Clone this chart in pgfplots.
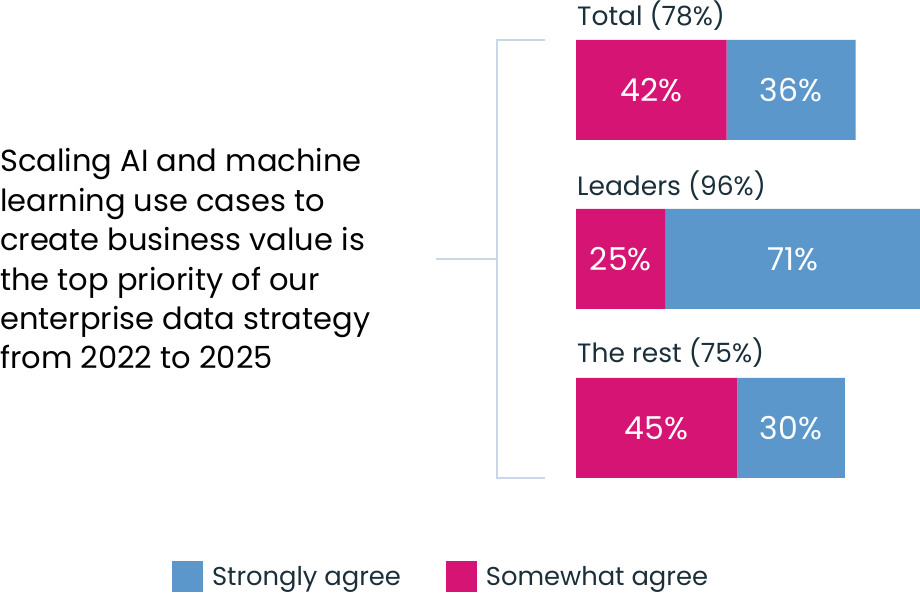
\documentclass[border=0pt]{standalone}
\usepackage{pgfplots}
\pgfplotsset{compat=1.18}
\usepackage{fontspec}
\setmainfont{Poppins}
\definecolor{mag}{HTML}{D61474}
\definecolor{blu}{HTML}{5B97CB}
\definecolor{txt}{HTML}{1B2F3A}
\definecolor{brk}{HTML}{C9D7E6}
\tikzset{vlab/.style={text=white, font=\fontsize{31.5bp}{34bp}\selectfont}}
\begin{document}
\begin{tikzpicture}[x=1bp,y=1bp]
\path[use as bounding box] (0,0) rectangle (920,595);
\begin{axis}[at={(576bp,82.5bp)}, anchor=south west, scale only axis,
  width=344bp, height=507bp, xmin=0, xmax=96, ymin=-0.5, ymax=2.5,
  xbar stacked, bar width=100bp, axis lines=none, ticks=none, clip=false,
  reverse legend,
  legend style={at={(-1.1744,-0.1272)}, anchor=west, draw=none, fill=none,
    legend columns=2, font=\fontsize{25.8bp}{29bp}\selectfont, text=txt,
    inner sep=0pt, outer sep=0pt,
    /tikz/every odd column/.append style={column sep=7bp},
    /tikz/every even column/.append style={column sep=43bp}},
  legend cell align=left,
]
\addplot[fill=mag, draw=none, legend image code/.code={\fill[mag] (0bp,-15.5bp) rectangle (31bp,15.5bp);}] coordinates {(45,0) (25,1) (42,2)};
\addlegendentry{Somewhat agree}
\addplot[fill=blu, draw=none, legend image code/.code={\fill[blu] (0bp,-15.5bp) rectangle (31bp,15.5bp);}] coordinates {(30,0) (71,1) (36,2)};
\addlegendentry{Strongly agree}
\coordinate (a1) at (axis cs:21,2);
\coordinate (a2) at (axis cs:60,2);
\coordinate (b1) at (axis cs:12.5,1);
\coordinate (b2) at (axis cs:60.5,1);
\coordinate (c1) at (axis cs:22.5,0);
\coordinate (c2) at (axis cs:60,0);
\end{axis}
\node[vlab] at (a1) {42\%};
\node[vlab] at (a2) {36\%};
\node[vlab] at (b1) {25\%};
\node[vlab] at (b2) {71\%};
\node[vlab] at (c1) {45\%};
\node[vlab] at (c2) {30\%};
\begin{scope}[every node/.style={anchor=west, inner sep=0pt, text=txt, font=\fontsize{26.5bp}{29bp}\selectfont}]
\node at (577,579) {Total (78\%)};
\node at (577,409) {Leaders (96\%)};
\node at (577,242) {The rest (75\%)};
\end{scope}
\draw[brk, line width=1.5bp] (545,555) -- (497,555) -- (497,117) -- (545,117);
\draw[brk, line width=1.5bp] (436,336) -- (497,336);
\node[anchor=west, inner sep=0pt, align=left, text=black, font=\fontsize{30.5bp}{39.4bp}\selectfont] at (0,336)
{Scaling AI and machine\\learning use cases to\\create business value is\\the top priority of our\\enterprise data strategy\\from 2022 to 2025};
\end{tikzpicture}
\end{document}
